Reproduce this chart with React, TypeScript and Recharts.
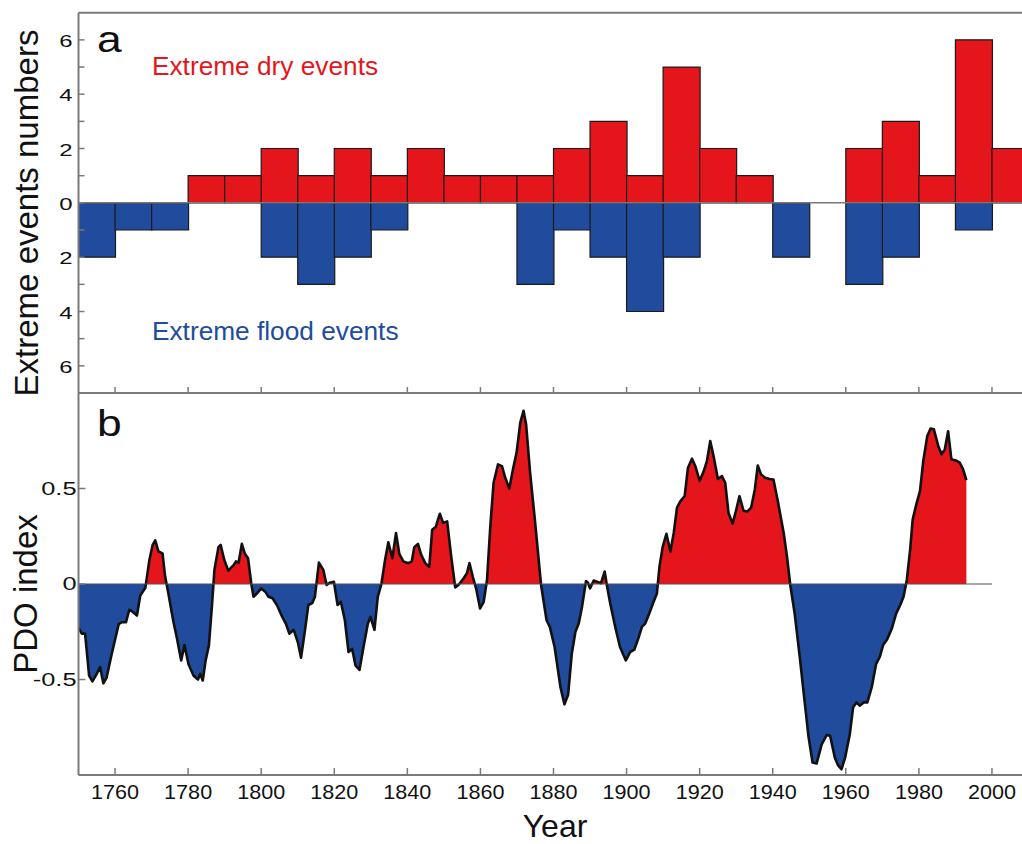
import { ComposedChart, Bar, Area, XAxis, YAxis, ReferenceLine } from 'recharts';

// panel a: decadal counts of extreme events (decade start years)
const decades = [1750, 1760, 1770, 1780, 1790, 1800, 1810, 1820, 1830, 1840, 1850, 1860, 1870,
  1880, 1890, 1900, 1910, 1920, 1930, 1940, 1950, 1960, 1970, 1980, 1990, 2000];
const dryEvents = [0, 0, 0, 1, 1, 2, 1, 2, 1, 2, 1, 1, 1, 2, 3, 1, 5, 2, 1, 0, 0, 2, 3, 1, 6, 2];
const floodEvents = [2, 1, 1, 0, 0, 2, 3, 2, 1, 0, 0, 0, 3, 1, 2, 4, 2, 0, 0, 2, 0, 3, 2, 0, 1, 0];

// panel b: PDO index reconstruction
const pdoYears = [
  1750.0, 1750.9, 1751.8, 1752.9, 1753.8, 1755.0, 1755.9, 1756.8, 1757.7, 1759.1, 1761.0, 1761.9,
  1763.0, 1763.9, 1764.8, 1766.0, 1766.9, 1768.3, 1769.4, 1770.3, 1771.0, 1771.9, 1773.0, 1773.7,
  1774.6, 1776.0, 1776.9, 1778.1, 1779.0, 1780.1, 1781.5, 1782.7, 1783.3, 1784.0, 1784.8, 1785.7,
  1786.5, 1787.2, 1788.3, 1788.9, 1789.9, 1791.0, 1792.5, 1793.1, 1793.8, 1794.7, 1795.5, 1796.4,
  1797.3, 1797.9, 1798.8, 1800.0, 1801.1, 1802.0, 1803.1, 1804.3, 1805.7, 1806.8, 1807.7, 1808.9,
  1810.1, 1810.9, 1812.0, 1812.9, 1814.0, 1814.7, 1815.8, 1817.0, 1817.9, 1818.8, 1819.9, 1820.9,
  1821.8, 1822.9, 1823.9, 1824.9, 1825.8, 1826.9, 1828.0, 1829.2, 1829.9, 1831.0, 1831.9, 1832.9,
  1833.9, 1834.8, 1835.9, 1836.9, 1837.8, 1838.9, 1840.3, 1841.2, 1841.9, 1842.9, 1843.8, 1844.9,
  1846.0, 1846.8, 1847.8, 1848.9, 1849.8, 1850.9, 1851.9, 1853.1, 1854.0, 1855.4, 1856.3, 1857.0,
  1857.9, 1858.9, 1859.9, 1860.9, 1861.8, 1862.7, 1863.6, 1864.8, 1865.9, 1866.8, 1867.9, 1868.9,
  1869.9, 1870.9, 1871.8, 1872.5, 1873.6, 1874.9, 1876.6, 1878.1, 1879.0, 1880.3, 1881.9, 1883.0,
  1884.0, 1885.0, 1886.0, 1886.9, 1887.8, 1888.9, 1889.4, 1890.0, 1891.0, 1891.9, 1893.0, 1894.0,
  1894.6, 1895.5, 1896.9, 1898.2, 1899.8, 1901.0, 1902.1, 1903.2, 1904.2, 1905.1, 1906.2, 1907.4,
  1908.3, 1909.0, 1909.9, 1910.9, 1912.0, 1912.9, 1913.8, 1914.7, 1915.9, 1916.8, 1917.9, 1918.8,
  1920.0, 1921.1, 1922.0, 1922.9, 1923.8, 1925.0, 1926.1, 1927.0, 1927.9, 1929.0, 1929.9, 1930.9,
  1932.0, 1933.1, 1934.1, 1935.1, 1935.9, 1936.8, 1937.9, 1939.2, 1940.2, 1941.4, 1943.0, 1943.9,
  1944.8, 1946.0, 1947.5, 1948.7, 1949.8, 1950.9, 1952.0, 1953.4, 1954.8, 1955.7, 1957.0, 1957.9,
  1958.8, 1959.8, 1961.1, 1962.0, 1962.9, 1963.8, 1964.9, 1965.9, 1967.1, 1968.3, 1969.3, 1970.2,
  1971.3, 1972.6, 1973.8, 1974.9, 1975.8, 1976.7, 1977.6, 1978.3, 1979.4, 1980.3, 1981.2, 1982.3,
  1983.2, 1984.1, 1985.3, 1986.2, 1987.1, 1988.0, 1988.9, 1990.1, 1991.2, 1992.1, 1993.0,
];
const pdoValues = [
  -0.23, -0.26, -0.26, -0.48, -0.51, -0.47, -0.435, -0.52, -0.49, -0.365, -0.21, -0.2,
  -0.2, -0.135, -0.145, -0.165, -0.06, -0.02, 0.126, 0.205, 0.228, 0.17, 0.16, 0.04,
  -0.05, -0.2, -0.28, -0.4, -0.32, -0.42, -0.48, -0.5, -0.47, -0.505, -0.4, -0.32,
  -0.12, 0.074, 0.193, 0.205, 0.126, 0.07, 0.1, 0.118, 0.11, 0.21, 0.16, 0.135,
  0.0, -0.067, -0.05, -0.023, -0.04, -0.067, -0.075, -0.11, -0.17, -0.21, -0.26, -0.24,
  -0.31, -0.386, -0.24, -0.11, -0.1, -0.067, 0.112, 0.074, -0.005, 0.007, 0.012, -0.11,
  -0.093, -0.19, -0.356, -0.34, -0.426, -0.45, -0.33, -0.207, -0.172, -0.24, -0.067, 0.0,
  0.126, 0.218, 0.135, 0.267, 0.158, 0.118, 0.109, 0.118, 0.193, 0.21, 0.153, 0.109,
  0.09, 0.284, 0.3, 0.368, 0.32, 0.328, 0.16, -0.018, -0.005, 0.03, 0.056, 0.109,
  0.039, -0.03, -0.128, -0.093, 0.021, 0.3, 0.53, 0.626, 0.617, 0.556, 0.5, 0.6,
  0.688, 0.845, 0.907, 0.837, 0.582, 0.337, -0.005, -0.19, -0.225, -0.33, -0.54, -0.63,
  -0.58, -0.365, -0.25, -0.207, -0.12, 0.016, 0.007, -0.023, 0.018, 0.012, 0.004, 0.065,
  -0.005, -0.1, -0.225, -0.33, -0.4, -0.356, -0.344, -0.286, -0.225, -0.207, -0.154, -0.093,
  -0.05, 0.091, 0.196, 0.263, 0.17, 0.267, 0.4, 0.433, 0.46, 0.609, 0.656, 0.618,
  0.54, 0.59, 0.644, 0.749, 0.67, 0.55, 0.565, 0.53, 0.372, 0.316, 0.38, 0.46,
  0.384, 0.38, 0.4, 0.495, 0.62, 0.574, 0.556, 0.55, 0.547, 0.433, 0.267, 0.144,
  -0.005, -0.154, -0.4, -0.61, -0.8, -0.935, -0.94, -0.84, -0.79, -0.795, -0.91, -0.95,
  -0.97, -0.91, -0.786, -0.646, -0.62, -0.637, -0.62, -0.62, -0.54, -0.418, -0.382, -0.32,
  -0.29, -0.233, -0.154, -0.11, -0.067, 0.021, 0.179, 0.337, 0.425, 0.486, 0.644, 0.775,
  0.814, 0.81, 0.723, 0.679, 0.705, 0.8, 0.653, 0.647, 0.635, 0.6, 0.544,
];

const yearTicks = [1760, 1780, 1800, 1820, 1840, 1860, 1880, 1900, 1920, 1940, 1960, 1980, 2000];
const countTicks = [-6, -5, -4, -3, -2, -1, 0, 1, 2, 3, 4, 5, 6];
const pdoTicks = [-0.5, 0, 0.5];

const RED = '#e4161c';
const BLUE = '#214b9d';
const GREY = '#7a7a7a';
const FONT = "'Liberation Sans', Arial, sans-serif";

const barData = decades.map((d, i) => ({ mid: d + 5, dry: dryEvents[i], flood: -floodEvents[i] }));
const pdoData = pdoYears.map((y, i) => ({ year: y, pdo: pdoValues[i] }));
const pdoMax = Math.max(...pdoValues);
const pdoMin = Math.min(...pdoValues);
const zeroOffset = pdoMax / (pdoMax - pdoMin);

const innerTickX = (props: any) => (
  <line x1={props.x} x2={props.x} y1={props.y} y2={props.y - 6} stroke={GREY} strokeWidth={1.5} />
);

const yearTick = (props: any) => (
  <g>
    <line x1={props.x} x2={props.x} y1={props.y} y2={props.y - 7} stroke={GREY} strokeWidth={1.5} />
    <g transform={`translate(${props.x},${props.y + 24}) scale(1.08,1)`}>
      <text x={0} y={0} textAnchor="middle" fontSize={20} fontFamily={FONT} fill="#111">
        {props.payload.value}
      </text>
    </g>
  </g>
);

const countTick = (props: any) => {
  const v = props.payload.value;
  return (
    <g>
      <line x1={props.x} x2={props.x + 6} y1={props.y} y2={props.y} stroke={GREY} strokeWidth={1.5} />
      {v % 2 === 0 && (
        <g transform={`translate(${props.x - 6},${props.y + 7}) scale(1.45,1)`}>
          <text x={0} y={0} textAnchor="end" fontSize={16.5} fontFamily={FONT} fill="#111">
            {Math.abs(v)}
          </text>
        </g>
      )}
    </g>
  );
};

const pdoTick = (props: any) => (
  <g>
    <line x1={props.x} x2={props.x + 7} y1={props.y} y2={props.y} stroke={GREY} strokeWidth={1.5} />
    <g transform={`translate(${props.x - 2},${props.y + 6}) scale(1.45,1)`}>
      <text x={0} y={0} textAnchor="end" fontSize={17.5} fontFamily={FONT} fill="#111">
        {props.payload.value}
      </text>
    </g>
  </g>
);

export default function App() {
  return (
    <div style={{ position: 'absolute', left: 0, top: 0, width: 1022, height: 844, overflow: 'hidden', background: '#fff' }}>
      <div style={{ position: 'absolute', left: 0, top: 0 }}>
        <ComposedChart
          width={1030}
          height={400}
          data={barData}
          stackOffset="sign"
          barCategoryGap={0}
          barGap={0}
          margin={{ top: 11.7, right: 1.5, bottom: 6, left: 77.5 }}
        >
          <XAxis
            dataKey="mid"
            type="number"
            domain={[1750, 2010]}
            ticks={yearTicks}
            height={1}
            tickSize={0}
            tickMargin={0}
            tickLine={false}
            tick={innerTickX}
            axisLine={{ stroke: GREY, strokeWidth: 2 }}
            allowDataOverflow
          />
          <XAxis
            xAxisId="top"
            orientation="top"
            type="number"
            domain={[1750, 2010]}
            height={1}
            tick={false}
            tickLine={false}
            axisLine={{ stroke: GREY, strokeWidth: 2 }}
          />
          <YAxis
            type="number"
            domain={[-7, 7]}
            ticks={countTicks}
            width={1}
            tickSize={0}
            tickMargin={0}
            tickLine={false}
            tick={countTick}
            axisLine={{ stroke: GREY, strokeWidth: 2 }}
            interval={0}
          />
          <ReferenceLine y={0} stroke={GREY} strokeWidth={1.5} />
          <Bar dataKey="dry" stackId="ev" fill={RED} stroke="#1a1a1a" strokeWidth={1.2} isAnimationActive={false} />
          <Bar dataKey="flood" stackId="ev" fill={BLUE} stroke="#1a1a1a" strokeWidth={1.2} isAnimationActive={false} />
        </ComposedChart>
      </div>
      <div style={{ position: 'absolute', left: 0, top: 380 }}>
        <ComposedChart
          width={1030}
          height={464}
          data={pdoData}
          margin={{ top: 13, right: 1.5, bottom: 68, left: 77.5 }}
        >
          <defs>
            <linearGradient id="pdoFill" x1="0" y1="0" x2="0" y2="1">
              <stop offset={zeroOffset} stopColor={RED} />
              <stop offset={zeroOffset} stopColor={BLUE} />
            </linearGradient>
          </defs>
          <XAxis
            dataKey="year"
            type="number"
            domain={[1750, 2010]}
            ticks={yearTicks}
            height={1}
            tickSize={0}
            tickMargin={0}
            tickLine={false}
            tick={yearTick}
            axisLine={{ stroke: GREY, strokeWidth: 2 }}
            allowDataOverflow
          />
          <YAxis
            type="number"
            domain={[-1, 1]}
            ticks={pdoTicks}
            width={1}
            tickSize={0}
            tickMargin={0}
            tickLine={false}
            tick={pdoTick}
            axisLine={{ stroke: GREY, strokeWidth: 2 }}
            interval={0}
          />
          <Area
            type="linear"
            dataKey="pdo"
            baseValue={0}
            fill="url(#pdoFill)"
            fillOpacity={1}
            stroke="#111"
            strokeWidth={2.6}
            strokeLinejoin="round"
            isAnimationActive={false}
          />
          <ReferenceLine segment={[{ x: 1750, y: 0 }, { x: 2000, y: 0 }]} stroke="#555" strokeWidth={1.2} />
        </ComposedChart>
      </div>
      <svg width={1022} height={844} style={{ position: 'absolute', left: 0, top: 0, pointerEvents: 'none' }}>
        <g fontFamily={FONT}>
          <g transform="translate(97,52) scale(1.2,1)">
            <text x={0} y={0} fontSize={37} fill="#111">a</text>
          </g>
          <g transform="translate(97,436) scale(1.2,1)">
            <text x={0} y={0} fontSize={37} fill="#111">b</text>
          </g>
          <g transform="translate(152,75) scale(1.05,1)">
            <text x={0} y={0} fontSize={25} fill={RED}>Extreme dry events</text>
          </g>
          <g transform="translate(152,340) scale(1.05,1)">
            <text x={0} y={0} fontSize={25} fill={BLUE}>Extreme flood events</text>
          </g>
          <text x={38} y={213} fontSize={33} fill="#111" textAnchor="middle" transform="rotate(-90,38,213)">
            Extreme events numbers
          </text>
          <text x={37} y={594} fontSize={33} fill="#111" textAnchor="middle" transform="rotate(-90,37,594)">
            PDO index
          </text>
          <text x={555} y={837} fontSize={32} fill="#111" textAnchor="middle">Year</text>
        </g>
      </svg>
    </div>
  );
}
